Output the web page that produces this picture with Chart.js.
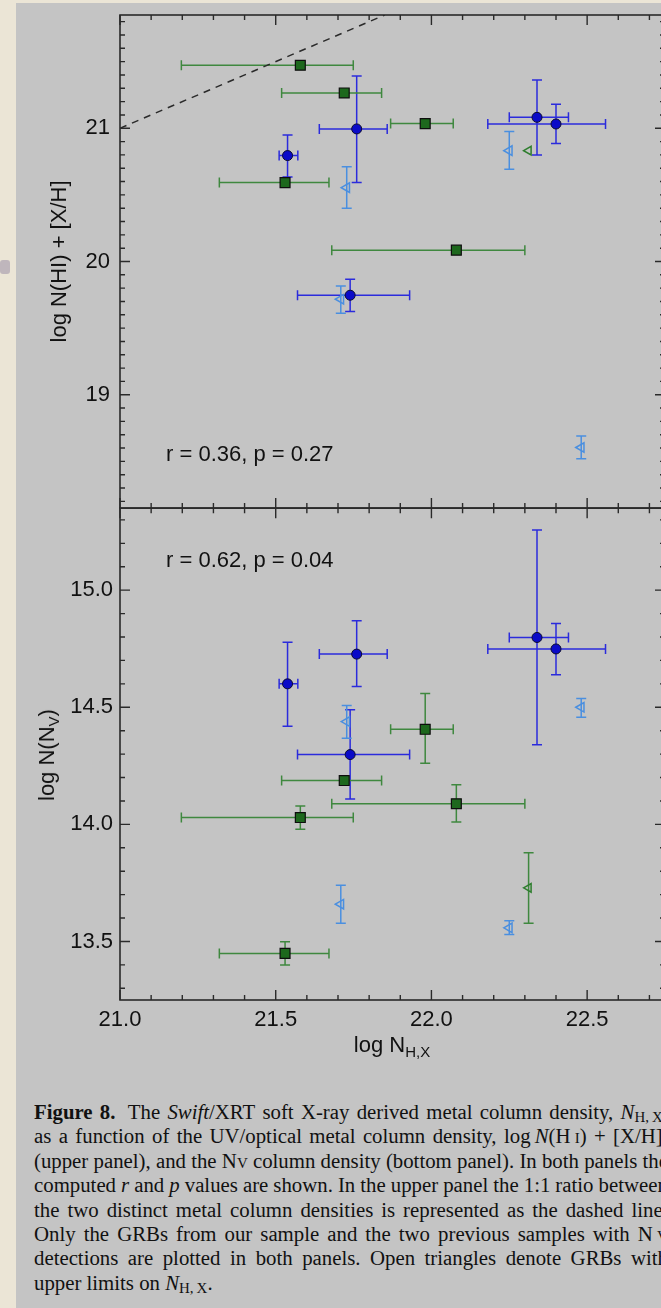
<!DOCTYPE html>
<html><head><meta charset="utf-8">
<script src="https://cdn.jsdelivr.net/npm/chart.js@4.4.0/dist/chart.umd.min.js"></script>
<style>
html,body{margin:0;padding:0;width:661px;height:1308px;overflow:hidden;background:#ebe5d6;}
#panel{position:absolute;left:16px;top:3px;width:720px;height:1320px;background:#c4c4c4;}
#blob{position:absolute;left:0;top:260px;width:10px;height:14px;background:#9a90a8;opacity:0.55;border-radius:3px;}
canvas{position:absolute;left:0;}
.t{position:absolute;font-family:"Liberation Sans",Arial,sans-serif;font-size:22px;color:#111;white-space:nowrap;line-height:22px;}
.t sub{font-size:15px;line-height:0;vertical-align:-5px;}
.rot{transform:translate(-50%,-50%) rotate(-90deg);}
#cap{position:absolute;left:34px;top:1100px;font-family:"Liberation Serif","Times New Roman",serif;font-size:20.8px;color:#111;}
#cap .ln{display:flex;justify-content:space-between;width:634px;height:24.4px;line-height:24.4px;white-space:nowrap;}
#cap .last{height:24.4px;line-height:24.4px;white-space:nowrap;}
#cap sub{font-size:0.72em;line-height:0;vertical-align:-0.22em;}
sc{font-variant:small-caps;}
</style>
</head><body>
<div id="panel"></div>
<div id="blob"></div>
<canvas id="cTop" width="700" height="530" style="top:0px"></canvas>
<canvas id="cBot" width="700" height="560" style="top:500px"></canvas>
<div class="t" style="left:166px;top:443px">r = 0.36, p = 0.27</div>
<div class="t" style="left:166px;top:549px">r = 0.62, p = 0.04</div>
<div class="t rot" style="left:47px;top:755px">log N(N<sub>V</sub>)</div>
<div class="t" style="left:392px;top:1034px;transform:translateX(-50%)">log N<sub>H,X</sub></div>
<div id="cap"></div>
<script>
// ---------- tick labels ----------
const xTickLabels    = [21.0, 21.5, 22.0, 22.5];
const yTopTickLabels = [19, 20, 21];
const yBotTickLabels = [13.5, 14.0, 14.5, 15.0];

// ---------- blue filled circles ----------
const blueX      = [21.538, 21.760, 22.339, 22.400, 21.739];
const blueXlo    = [21.511, 21.640, 22.250, 22.181, 21.570];
const blueXhi    = [21.571, 21.858, 22.440, 22.559, 21.930];
const blueTopY   = [20.795, 20.995, 21.082, 21.032, 19.747];
const blueTopYlo = [20.635, 20.592, 20.800, 20.885, 19.624];
const blueTopYhi = [20.950, 21.392, 21.362, 21.180, 19.867];
const blueBotY   = [14.600, 14.727, 14.798, 14.749, 14.298];
const blueBotYlo = [14.419, 14.589, 14.340, 14.639, 14.108];
const blueBotYhi = [14.778, 14.869, 15.257, 14.858, 14.489];

// ---------- green filled squares ----------
const greenX      = [21.579, 21.720, 21.980, 21.530, 22.080];
const greenXlo    = [21.197, 21.519, 21.869, 21.319, 21.680];
const greenXhi    = [21.749, 21.840, 22.070, 21.671, 22.300];
const greenTopY   = [21.473, 21.265, 21.035, 20.592, 20.085];
const greenBotY   = [14.029, 14.187, 14.406, 13.449, 14.088];
const greenBotYlo = [13.979, null,   14.261, 13.399, 14.010];
const greenBotYhi = [14.078, null,   14.559, 13.499, 14.169];

// ---------- light-blue open triangles (upper limits) ----------
const ltriX      = [22.250, 21.728, 21.709, 22.481];
const ltriTopY   = [20.832, 20.554, 19.717, 18.604];
const ltriTopYlo = [20.692, 20.400, 19.612, 18.520];
const ltriTopYhi = [20.975, 20.712, 19.817, 18.690];
const ltriBotY   = [13.558, 14.439, 13.659, 14.500];
const ltriBotYlo = [13.530, 14.368, 13.578, 14.457];
const ltriBotYhi = [13.588, 14.508, 13.740, 14.537];

// ---------- green open triangle (upper limit) ----------
const gtriX      = [22.312];
const gtriTopY   = [20.832];
const gtriBotY   = [13.729];
const gtriBotYlo = [13.578];
const gtriBotYhi = [13.879];

// ---------- 1:1 line ----------
const oneToOne = [21.0, 21.85];

const FONT = {family:'"Liberation Sans", Arial, sans-serif', size:22};
const INK = '#111';

function pts(xs, ys){ return xs.map((x,i)=>({x:x, y:ys[i]})); }
function noPad(s){ s.paddingTop = 0; s.paddingBottom = 0; s.paddingLeft = 0; s.paddingRight = 0; }

const errorBars = {
  id:'errorBars',
  beforeDatasetsDraw(chart){
    const ctx = chart.ctx, xs = chart.scales.x, ys = chart.scales.y, cap = 5;
    chart.data.datasets.forEach(ds=>{
      if(!ds.errColor) return;
      ctx.save();
      ctx.strokeStyle = ds.errColor; ctx.lineWidth = 1.5;
      ds.data.forEach((p,i)=>{
        const px = xs.getPixelForValue(p.x), py = ys.getPixelForValue(p.y);
        ctx.beginPath();
        if(ds.xlo && ds.xlo[i]!=null){
          const a = xs.getPixelForValue(ds.xlo[i]), b = xs.getPixelForValue(ds.xhi[i]);
          ctx.moveTo(a,py); ctx.lineTo(b,py);
          ctx.moveTo(a,py-cap); ctx.lineTo(a,py+cap);
          ctx.moveTo(b,py-cap); ctx.lineTo(b,py+cap);
        }
        if(ds.ylo && ds.ylo[i]!=null){
          const a = ys.getPixelForValue(ds.ylo[i]), b = ys.getPixelForValue(ds.yhi[i]);
          ctx.moveTo(px,a); ctx.lineTo(px,b);
          ctx.moveTo(px-cap,a); ctx.lineTo(px+cap,a);
          ctx.moveTo(px-cap,b); ctx.lineTo(px+cap,b);
        }
        ctx.stroke();
      });
      ctx.restore();
    });
  }
};

const frame = {
  id:'frame',
  afterDraw(chart, args, opts){
    const ctx = chart.ctx, {left,right,top,bottom} = chart.chartArea;
    const xs = chart.scales.x, ys = chart.scales.y;
    ctx.save();
    ctx.strokeStyle = '#2a2a2a'; ctx.lineWidth = 1.6;
    ctx.strokeRect(left, top, right-left, bottom-top);
    ctx.lineWidth = 1.4;
    const isMaj = (arr,v)=>arr.some(m=>Math.abs(m-v)<1e-6);
    ctx.beginPath();
    for(let k=Math.ceil(xs.min*10-1e-6); k<=Math.floor(xs.max*10+1e-6); k++){
      const v = k/10, px = xs.getPixelForValue(v), L = isMaj(opts.xMajor,v)?10:5;
      ctx.moveTo(px,top); ctx.lineTo(px,top+L);
      ctx.moveTo(px,bottom); ctx.lineTo(px,bottom-L);
    }
    for(let k=Math.ceil(ys.min*10-1e-6); k<=Math.floor(ys.max*10+1e-6); k++){
      const v = k/10, py = ys.getPixelForValue(v), L = isMaj(opts.yMajor,v)?10:5;
      ctx.moveTo(left,py); ctx.lineTo(left+L,py);
      ctx.moveTo(right,py); ctx.lineTo(right-L,py);
    }
    ctx.stroke();
    ctx.restore();
  }
};

function blueDS(ys, lo, hi){
  return {label:'blue', data:pts(blueX, ys), pointStyle:'circle', pointRadius:5, backgroundColor:'#0a0ac8', borderColor:'#0a0a30', borderWidth:1,
    errColor:'#2b2bdc', xlo:blueXlo, xhi:blueXhi, ylo:lo, yhi:hi};
}
function greenDS(ys, lo, hi){
  return {label:'green', data:pts(greenX, ys), pointStyle:'rect', pointRadius:7, backgroundColor:'#1d681d', borderColor:'#0d0d0d', borderWidth:1.2,
    errColor:'#3f883f', xlo:greenXlo, xhi:greenXhi, ylo:lo, yhi:hi};
}
function ltriDS(ys, lo, hi){
  return {label:'ltri', data:pts(ltriX, ys), pointStyle:'triangle', rotation:-90, pointRadius:5.5, backgroundColor:'rgba(0,0,0,0)', borderColor:'#4a8fe0', borderWidth:1.5,
    errColor:'#4a8fe0', ylo:lo, yhi:hi};
}
function gtriDS(ys, lo, hi){
  return {label:'gtri', data:pts(gtriX, ys), pointStyle:'triangle', rotation:-90, pointRadius:5, backgroundColor:'rgba(0,0,0,0)', borderColor:'#2e7e2e', borderWidth:1.5,
    errColor:'#3f883f', ylo:lo, yhi:hi};
}

const common = {
  responsive:false, animation:false, devicePixelRatio:1,
  events:[],
};

new Chart(document.getElementById('cTop'), {
  type:'scatter',
  data:{datasets:[
    blueDS(blueTopY, blueTopYlo, blueTopYhi),
    greenDS(greenTopY, null, null),
    ltriDS(ltriTopY, ltriTopYlo, ltriTopYhi),
    gtriDS(gtriTopY, null, null),
    {type:'line', label:'1:1', data:pts(oneToOne, oneToOne), borderColor:'#2a2a2a', borderWidth:1.5, borderDash:[7,6], pointRadius:0, fill:false}
  ]},
  options:Object.assign({}, common, {
    layout:{padding:{left:0,right:35,top:15,bottom:22}},
    plugins:{legend:{display:false}, tooltip:{enabled:false}, frame:{xMajor:xTickLabels, yMajor:yTopTickLabels}},
    scales:{
      x:{type:'linear', min:21, max:22.75, display:false, afterFit:noPad},
      y:{type:'linear', min:18.15, max:21.85,
        afterFit(s){ s.width = 120; noPad(s); },
        afterBuildTicks(s){ s.ticks = yTopTickLabels.map(v=>({value:v})); },
        ticks:{font:FONT, color:INK, padding:10, callback:v=>String(v)},
        grid:{display:false, drawTicks:false}, border:{display:false},
        title:{display:true, text:'log N(HI) + [X/H]', font:FONT, color:INK, padding:{top:47,bottom:0}}
      }
    }
  }),
  plugins:[errorBars, frame]
});

new Chart(document.getElementById('cBot'), {
  type:'scatter',
  data:{datasets:[
    blueDS(blueBotY, blueBotYlo, blueBotYhi),
    greenDS(greenBotY, greenBotYlo, greenBotYhi),
    ltriDS(ltriBotY, ltriBotYlo, ltriBotYhi),
    gtriDS(gtriBotY, gtriBotYlo, gtriBotYhi)
  ]},
  options:Object.assign({}, common, {
    layout:{padding:{left:0,right:35,top:8,bottom:0}},
    plugins:{legend:{display:false}, tooltip:{enabled:false}, frame:{xMajor:xTickLabels, yMajor:yBotTickLabels}},
    scales:{
      x:{type:'linear', min:21, max:22.75,
        afterFit(s){ s.height = 60; noPad(s); },
        afterBuildTicks(s){ s.ticks = xTickLabels.map(v=>({value:v})); },
        ticks:{font:FONT, color:INK, padding:7, maxRotation:0, autoSkip:false, callback:v=>Number(v).toFixed(1)},
        grid:{display:false, drawTicks:false}, border:{display:false}
      },
      y:{type:'linear', min:13.25, max:15.35,
        afterFit(s){ s.width = 120; noPad(s); },
        afterBuildTicks(s){ s.ticks = yBotTickLabels.map(v=>({value:v})); },
        ticks:{font:FONT, color:INK, padding:7, callback:v=>Number(v).toFixed(1)},
        grid:{display:false, drawTicks:false}, border:{display:false}
      }
    }
  }),
  plugins:[errorBars, frame]
});

// ---------- caption ----------
const captionLines = [
  '<b>Figure</b> <b>8.</b>&nbsp; The <i>Swift</i>/XRT soft X-ray derived metal column density, <i>N</i><sub>H,&#8201;X</sub>,',
  'as a function of the UV/optical metal column density, log&#8201;<i>N</i>(H&#8201;<sc>i</sc>) + [X/H],',
  '(upper panel), and the N<sc>v</sc> column density (bottom panel). In both panels the',
  'computed <i>r</i> and <i>p</i> values are shown. In the upper panel the 1:1 ratio between',
  'the two distinct metal column densities is represented as the dashed line.',
  'Only the GRBs from our sample and the two previous samples with N&#8201;<sc>v</sc>',
  'detections are plotted in both panels. Open triangles denote GRBs with'
];
const captionLast = 'upper limits on <i>N</i><sub>H,&#8201;X</sub>.';
const cap = document.getElementById('cap');
captionLines.forEach(line=>{
  const d = document.createElement('div'); d.className = 'ln';
  line.split(' ').forEach(tok=>{ const s = document.createElement('span'); s.innerHTML = tok; d.appendChild(s); });
  cap.appendChild(d);
});
const last = document.createElement('div'); last.className = 'last'; last.innerHTML = captionLast; cap.appendChild(last);
</script>
</body></html>
